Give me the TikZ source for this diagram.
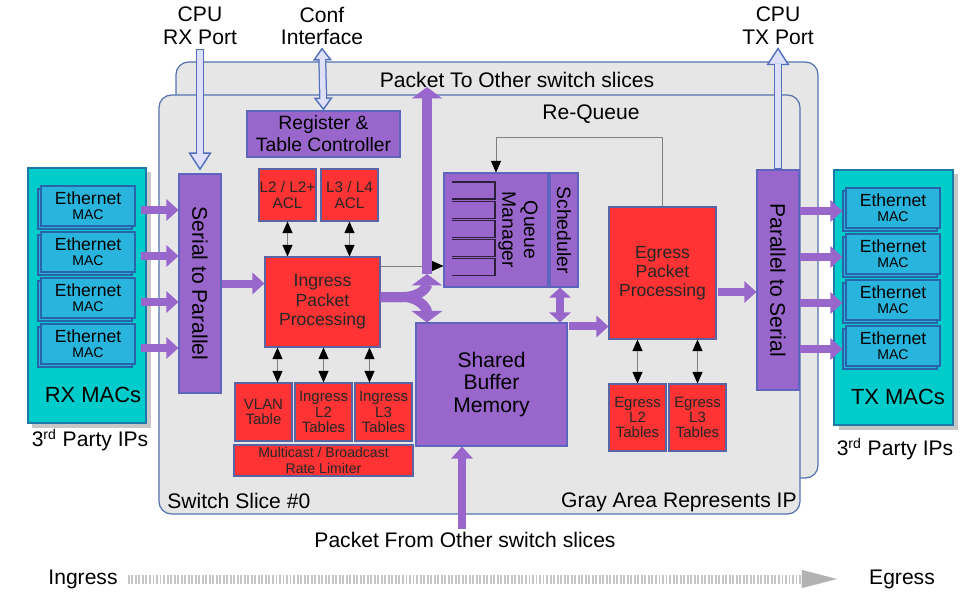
\documentclass[tikz,border=0pt]{standalone}
\usepackage{fontspec}
\setmainfont{Liberation Sans}
\usepackage{tikz}
\usetikzlibrary{arrows.meta, positioning, shadows, calc}

\newlength{\px}
\setlength{\px}{0.02cm}

\definecolor{areagray}{RGB}{230,230,230}
\definecolor{areaedge}{RGB}{85,115,175}
\definecolor{purp}{RGB}{153,102,204}
\definecolor{purpedge}{RGB}{95,100,190}
\definecolor{redfill}{RGB}{255,51,51}
\definecolor{rededge}{RGB}{90,100,165}
\definecolor{bankcyan}{RGB}{0,204,204}
\definecolor{bankedge}{RGB}{30,120,170}
\definecolor{ethblue}{RGB}{40,180,220}
\definecolor{ethedge}{RGB}{40,100,170}
\definecolor{cpufill}{RGB}{221,224,248}
\definecolor{cpuedge}{RGB}{80,110,185}

\begin{document}
\begin{tikzpicture}[x=0.02cm, y=-0.02cm,
            slice/.style    ={rectangle, rounded corners=0.25cm, draw=areaedge, fill=areagray,
                              line width=0.7pt, inner sep=0pt},
            macbank/.style  ={rectangle, draw=bankedge, fill=bankcyan, line width=0.6pt, inner sep=0pt,
                              drop shadow={shadow xshift=0.09cm, shadow yshift=-0.09cm, fill=black!22, opacity=1}},
            ethmac/.style   ={rectangle, draw=ethedge, fill=ethblue, line width=0.6pt, inner sep=0pt,
                              minimum width=94\px, minimum height=40\px, align=center,
                              font=\fontsize{10}{8.5}\selectfont,
                              copy shadow={shadow xshift=-0.06cm, shadow yshift=-0.06cm, draw=ethedge, fill=ethblue}},
            purplebox/.style={rectangle, draw=purpedge, fill=purp, line width=0.6pt, inner sep=0pt, align=center},
            redbox/.style   ={rectangle, draw=rededge, fill=redfill, line width=0.6pt, inner sep=0pt,
                              align=center, text=black!85},
            tbl/.style      ={redbox, minimum width=57\px, font=\fontsize{8.5}{8.6}\selectfont},
            lbl/.style      ={font=\fontsize{12}{13}\selectfont, align=center, inner sep=0pt},
            slotline/.style ={draw=black!70!purp, line width=0.6pt},
            fat/.style      ={draw=purp, line width=8\px, -{Triangle[length=0.24cm, width=0.42cm]}},
            fatbig/.style   ={draw=purp, line width=10\px, -{Triangle[length=0.23cm, width=0.6cm]}},
            fatboth/.style  ={draw=purp, line width=8\px,
                              {Triangle[length=0.2cm, width=0.42cm]}-{Triangle[length=0.2cm, width=0.42cm]}},
            thinboth/.style ={draw=gray, line width=0.5pt,
                              {Triangle[length=0.23cm, width=0.2cm, color=black]}-{Triangle[length=0.23cm, width=0.2cm, color=black]}},
            thinarr/.style  ={draw=gray, line width=0.5pt, -{Triangle[length=0.23cm, width=0.2cm, color=black]}},
            cpuline/.style  ={draw=cpuedge, line width=8\px},
            cpucore/.style  ={draw=cpufill, line width=5.5\px},
            cputip/.style   ={-{Triangle[length=0.36cm, width=0.46cm, color=cpuedge, fill=cpufill, line width=0.8pt]}},
            conftip/.style  ={{Triangle[length=0.26cm, width=0.38cm, color=cpuedge, fill=cpufill, line width=0.8pt]}-{Triangle[length=0.26cm, width=0.38cm, color=cpuedge, fill=cpufill, line width=0.8pt]}}
        ]
            \useasboundingbox (0,0) rectangle (980,601);

            % --- Gray areas (IP) ---
            \node[slice, minimum width=642\px, minimum height=416\px] (others) at (497,270) {};
            \node[slice, minimum width=641\px, minimum height=419\px] (slice0) at (479.5,304.5) {};
            \node[lbl] (totxt)   at (517,80)  {Packet To Other switch slices};
            \node[lbl] (requeue) at (591,114) {Re-Queue};
            \node[lbl, anchor=west] (slicename) at (167,501) {Switch Slice \#0};
            \node[lbl, anchor=east] (ipnote)    at (797,502) {Gray Area Represents IP};

            % --- MAC banks ---
            \node[macbank, minimum width=118\px, minimum height=255\px] (rxbank) at (87,295.5) {};
            \node[macbank, minimum width=119\px, minimum height=255\px] (txbank) at (893.5,297.5) {};
            \foreach \i in {1,...,4} {
                \node[ethmac] (rxmac\i) at (88,160+46*\i) {Ethernet\\{\fontsize{8}{8}\selectfont MAC}};
                \node[ethmac] (txmac\i) at (893,162+46*\i) {Ethernet\\{\fontsize{8}{8}\selectfont MAC}};
            }
            \node[lbl, font=\fontsize{12.5}{14}\selectfont] (rxname) at (93,395) {RX MACs};
            \node[lbl, font=\fontsize{12.5}{14}\selectfont] (txname) at (898,397) {TX MACs};
            \node[lbl] (rxparty) at (90,440)  {3\textsuperscript{rd} Party IPs};
            \node[lbl] (txparty) at (895,449) {3\textsuperscript{rd} Party IPs};

            % --- Serial / parallel ---
            \node[purplebox, minimum width=42\px, minimum height=219\px] (s2p) at (200,283.5) {};
            \node[lbl, rotate=-90] (s2ptxt) at (s2p) {Serial to Parallel};
            \node[purplebox, minimum width=42\px, minimum height=220\px] (p2s) at (778,280) {};
            \node[lbl, rotate=-90] (p2stxt) at (p2s) {Parallel to Serial};

            % --- Ingress side ---
            \node[purplebox, minimum width=153\px, minimum height=46\px, font=\fontsize{11}{12.5}\selectfont]
                (regctl) at (323.5,134) {Register \&\\Table Controller};
            \node[redbox, minimum width=57\px, minimum height=52\px, font=\fontsize{8.7}{9.3}\selectfont]
                (acltwo) at (287.5,195) {L2 / L2+\\ACL};
            \node[redbox, minimum width=57\px, minimum height=52\px, font=\fontsize{8.7}{9.3}\selectfont]
                (aclthree) at (349.5,195) {L3 / L4\\ACL};
            \node[redbox, minimum width=115\px, minimum height=90\px, font=\fontsize{10}{11}\selectfont]
                (ingress) at (322.5,302) {Ingress\\Packet\\Processing};
            \node[tbl, minimum height=58\px] (vlan)      at (263.5,412) {VLAN\\Table};
            \node[tbl, minimum height=58\px] (ingltwo)   at (323.5,412) {Ingress\\L2\\Tables};
            \node[tbl, minimum height=58\px] (inglthree) at (383.5,412) {Ingress\\L3\\Tables};
            \node[redbox, minimum width=179\px, minimum height=31\px, font=\fontsize{8}{9}\selectfont]
                (mcast) at (323.5,460.5) {Multicast / Broadcast\\Rate Limiter};

            % --- Buffer and queues ---
            \node[purplebox, minimum width=151\px, minimum height=123\px, font=\fontsize{12}{12.8}\selectfont]
                (shared) at (491.5,384.5) {Shared\\Buffer\\Memory};
            \node[purplebox, minimum width=104\px, minimum height=114\px] (qm)    at (496,230) {};
            \node[purplebox, minimum width=28\px,  minimum height=114\px] (sched) at (564,230) {};
            \node[rotate=-90, align=center, inner sep=0pt, font=\fontsize{11}{12.3}\selectfont]
                (qmtxt) at (518,230) {Queue\\Manager};
            \node[rotate=-90, inner sep=0pt, font=\fontsize{11}{12}\selectfont] (schedtxt) at (sched) {Scheduler};
            \foreach \i in {0,...,4}
                \draw[slotline] (452,182+19.2*\i) -| (495,199+19.2*\i) -- (452,199+19.2*\i);

            % --- Egress side ---
            \node[redbox, minimum width=107\px, minimum height=132\px, font=\fontsize{10}{10.8}\selectfont]
                (egress) at (662.5,273) {Egress\\Packet\\Processing};
            \node[tbl, minimum height=67\px] (egrltwo)   at (637.5,417.5) {Egress\\L2\\Tables};
            \node[tbl, minimum height=67\px] (egrlthree) at (697.5,417.5) {Egress\\L3\\Tables};

            % --- Outside labels ---
            \node[lbl] (cpurx) at (200,26) {CPU\\RX Port};
            \node[lbl] (conf)  at (322,26) {Conf\\Interface};
            \node[lbl] (cputx) at (778,26) {CPU\\TX Port};
            \node[lbl] (pfrom) at (465,540) {Packet From Other switch slices};
            \node[lbl] (ingrlbl) at (83,579)  {Ingress};
            \node[lbl] (egrlbl)  at (902,579) {Egress};
            \coordinate (fork)    at (427,274);
            \coordinate (toother) at (427,87);
            \coordinate (split)   at (403,297);

            % --- MACs <-> serial/parallel ---
            \foreach \i in {1,...,4} {
                \draw[fat] ($(rxmac\i.east)+(5,4)$) -- ($(s2p.west |- rxmac\i.east)+(0,4)$);
                \draw[fat] ($(p2s.east |- txmac\i.west)+(0,3)$) -- ($(txmac\i.west)+(-3,3)$);
            }
            \draw[fat] (s2p.east) -- (s2p.east -| ingress.west);

            % --- Table lookups ---
            \draw[thinboth] (acltwo.south)   -- (acltwo.south |- ingress.north);
            \draw[thinboth] (aclthree.south) -- (aclthree.south |- ingress.north);
            \draw[thinboth] ($(vlan.north)+(14,0)$) -- ($(vlan.north |- ingress.south)+(14,0)$);
            \draw[thinboth] (ingltwo.north)  -- (ingltwo.north |- ingress.south);
            \draw[thinboth] ($(inglthree.north)+(-14,0)$) -- ($(inglthree.north |- ingress.south)+(-14,0)$);
            \draw[thinboth] (egrltwo.north)   -- (egrltwo.north |- egress.south);
            \draw[thinboth] (egrlthree.north) -- (egrlthree.north |- egress.south);

            % --- Ingress to queues / buffer / other slices ---
            \draw[thinarr] ($(ingress.east)+(0,-36)$) -- ($(qm.west |- ingress.east)+(0,-36)$);
            \draw[fatbig] (fork) -- (toother);
            \draw[fatbig] ($(ingress.east)+(0,-5)$) -- (split) .. controls +(16,0) and +(0,14) .. (fork);
            \draw[fatbig] ($(ingress.east)+(0,-5)$) -- (split) .. controls +(16,0) and +(0,-14) .. (fork |- shared.north);
            \draw[fatboth] ($(sched.south)+(-4,0)$) -- ($(sched.south |- shared.north)+(-4,0)$);
            \draw[fat] ($(shared.north east)+(1,4)$) -- ($(egress.west |- shared.north east)+(0,4)$);
            \draw[fat] ($(egress.east)+(1,19)$) -- ($(p2s.west |- egress.east)+(0,19)$);
            \draw[fat] ($(pfrom.north)+(-3,-3)$) -- ($(shared.south -| pfrom.north)+(-3,0)$);

            % Re-Queue loop
            \draw[thinarr] (egress.north) -- ++(0,-69) -| (qm.north);

            % --- CPU and configuration ports ---
            \draw[cpuline, cputip] ($(cpurx.south)+(0,4)$) -- ($(s2p.north)+(0,-3)$);
            \draw[cpucore, shorten >=0.33cm, shorten <=1\px] ($(cpurx.south)+(0,4)$) -- ($(s2p.north)+(0,-3)$);
            \draw[cpuline, conftip] ($(conf.south)+(0,2)$) -- (regctl.north);
            \draw[cpucore, shorten >=0.23cm, shorten <=0.23cm] ($(conf.south)+(0,2)$) -- (regctl.north);
            \draw[cpuline, cputip] (p2s.north) -- ($(cputx.south)+(0,2)$);
            \draw[cpucore, shorten >=0.33cm, shorten <=1\px] (p2s.north) -- ($(cputx.south)+(0,2)$);

            % --- Ingress -> Egress direction ---
            \draw[line width=9\px, gray!45, dash pattern=on 1.1pt off 0.9pt, shorten <=0.2cm, shorten >=1.3cm]
                (ingrlbl.east) -- (egrlbl.west);
            \draw[draw=gray!60, line width=0.1pt, -{Triangle[length=0.7cm, width=0.36cm, color=gray!60]}]
                ($(egrlbl.west)+(-40,0)$) -- ($(egrlbl.west)+(-32,0)$);

        \end{tikzpicture}
\end{document}
